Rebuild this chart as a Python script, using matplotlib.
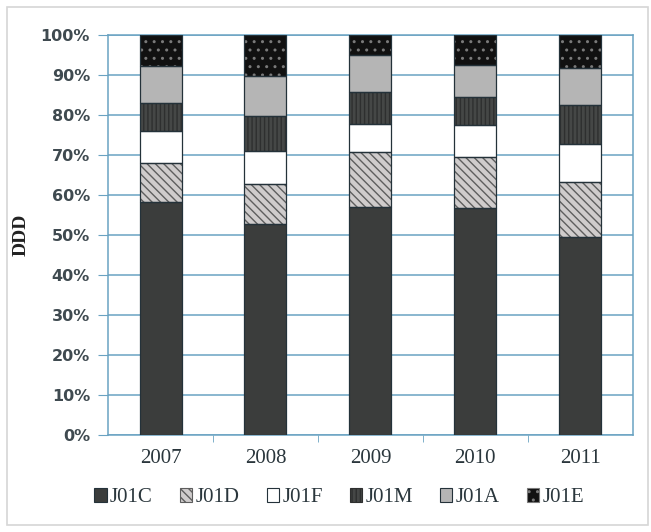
import matplotlib.pyplot as plt
import numpy as np
from matplotlib.patches import Patch, Rectangle

# DDD share by ATC group, per year (percent)
years = ['2007', '2008', '2009', '2010', '2011']
groups = ['J01C', 'J01D', 'J01F', 'J01M', 'J01A', 'J01E']
j01c = [58.2, 52.9, 57.1, 56.7, 49.6]
j01d = [9.9, 10.0, 13.7, 12.9, 13.7]
j01f = [8.0, 8.2, 7.1, 7.9, 9.6]
j01m = [7.0, 8.65, 7.9, 7.1, 9.6]
j01a = [9.15, 10.0, 9.2, 7.9, 9.2]
j01e = [7.75, 10.25, 5.0, 7.5, 8.3]

series = [j01c, j01d, j01f, j01m, j01a, j01e]
# face, hatch, hatch colour
styles = [
    ('#3b3d3c', None, None),
    ('#cfcccc', '\\\\\\\\', '#5e5e5e'),
    ('#ffffff', None, None),
    ('#454746', '||||', '#2e2f2f'),
    ('#b5b5b5', None, None),
    ('#111111', '..', '#7a7a7a'),
]
edge = '#24323a'
grid_col = '#6aa3c2'
serif = 'Liberation Serif'

fig = plt.figure(figsize=(6.51, 5.32), dpi=100)
fig.patches.append(Rectangle((0.011, 0.013), 0.984, 0.974, transform=fig.transFigure,
                             fill=False, edgecolor='#d6d6d6', linewidth=1.2))
ax = fig.add_axes([0.166, 0.182, 0.806, 0.752])

x = np.arange(len(years))
w = 0.4
bottom = np.zeros(len(years))
for vals, (fc, hatch, hc) in zip(series, styles):
    vals = np.array(vals)
    if hatch:
        ax.bar(x, vals, w, bottom=bottom, color=fc, hatch=hatch, edgecolor=hc,
               linewidth=0, zorder=3)
    else:
        ax.bar(x, vals, w, bottom=bottom, color=fc, linewidth=0, zorder=3)
    ax.bar(x, vals, w, bottom=bottom, fill=False, edgecolor=edge, linewidth=0.9, zorder=4)
    bottom += vals

ax.set_xlim(-0.5, len(years) - 0.5)
ax.set_ylim(0, 100)
ax.set_yticks(np.arange(0, 101, 10))
ax.set_yticklabels([f'{v}%' for v in range(0, 101, 10)], fontsize=11.5,
                   fontweight='bold', color='#3f4a50', family='DejaVu Sans')
ax.set_xticks(x)
ax.set_xticklabels(years, fontsize=15, family=serif, color='#2a363c')
ax.set_xticks(np.arange(0.5, len(years) - 1, 1), minor=True)
ax.tick_params(axis='x', which='major', length=0, pad=10)
ax.tick_params(axis='x', which='minor', length=5, color=grid_col)
ax.tick_params(axis='y', length=7, color=grid_col, pad=6)

ax.yaxis.grid(True, color=grid_col, linewidth=1.1, zorder=0)
ax.set_axisbelow(True)
for s in ax.spines.values():
    s.set_color(grid_col)
    s.set_linewidth(1.1)

ax.set_ylabel('DDD', fontsize=14, fontweight='bold', family=serif, color='#222222')
ax.yaxis.set_label_coords(-0.149, 0.5)

handles = []
for fc, hatch, hc in styles:
    if hatch:
        handles.append(Patch(facecolor=fc, hatch=hatch, edgecolor=hc, linewidth=0.8))
    else:
        handles.append(Patch(facecolor=fc, edgecolor=edge, linewidth=0.8))
fig.legend(handles, groups, loc='center', bbox_to_anchor=(0.521, 0.064), ncol=6,
           frameon=False, prop={'family': serif, 'size': 15}, handlelength=0.6,
           handleheight=0.6, handletextpad=0.15, columnspacing=1.3, labelcolor='#2a363c')

fig.savefig('out.png', dpi=100)
